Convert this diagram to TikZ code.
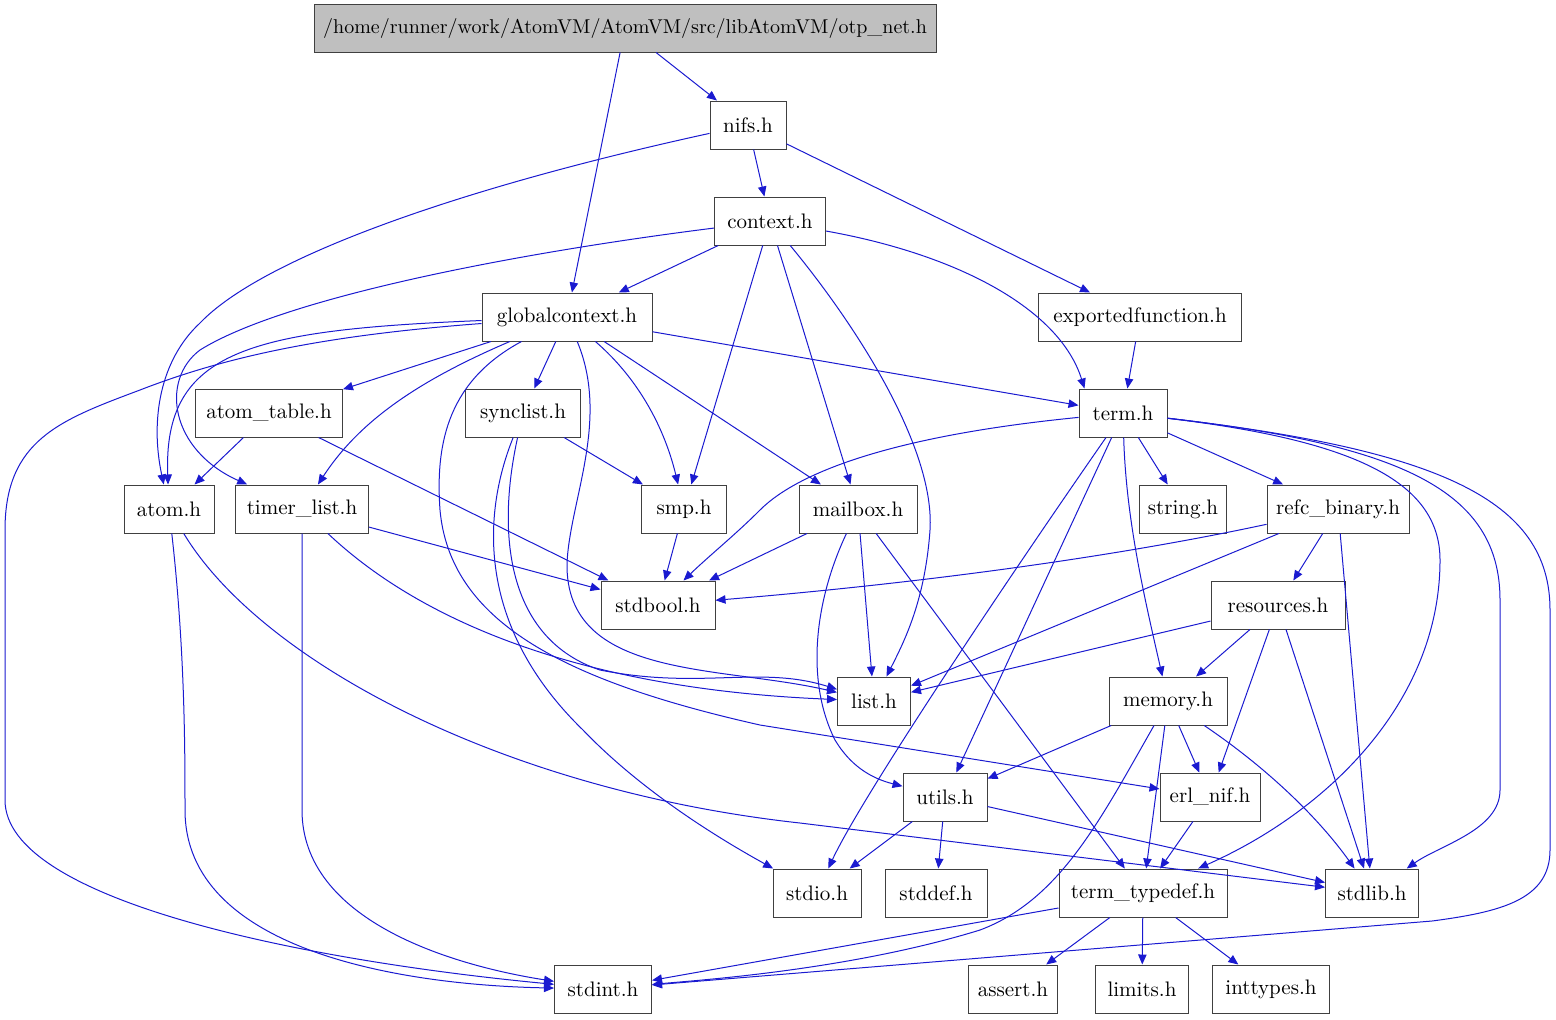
\documentclass[tikz,border=0pt]{standalone}
\usepackage{fontspec}
\usetikzlibrary{arrows.meta}
\definecolor{edgeblue}{RGB}{26,26,208}
\definecolor{rootgray}{RGB}{191,191,191}
\definecolor{boxline}{RGB}{64,64,64}
\begin{document}
\begin{tikzpicture}[
  x=0.5pt, y=-0.5pt,
  font=\fontsize{10.5}{12}\selectfont,
  >={Triangle[length=5pt, width=4.2pt]},
  arr/.style={->, draw=edgeblue, fill=none, line width=0.5pt},
  hfile/.style={draw=boxline, line width=0.5pt, fill=white, inner sep=0pt,
                minimum height=24pt, minimum width=#1},
]
\useasboundingbox (0,0) rectangle (1556,1019);

%% ===== ROW 0-2 =====
\node[hfile=311pt, fill=rootgray, font=\fontsize{10}{12}\selectfont] (otpnet) at (625,28)
    {/home/runner/work/AtomVM/AtomVM/src/libAtomVM/otp\_net.h};
\node[hfile=38pt]    (nifs)    at (748,125) {nifs.h};
\node[hfile=55.5pt]  (context) at (770,221) {context.h};

%% ===== ROW 3-4 =====
\node[hfile=85pt]    (gctx)    at (567,317)  {globalcontext.h};
\node[hfile=101.5pt] (expfun)  at (1140,317) {exportedfunction.h};
\node[hfile=73.5pt]  (atomtab) at (269,413)  {atom\_table.h};
\node[hfile=57.5pt]  (synclist) at (523,413) {synclist.h};
\node[hfile=44pt]    (term)    at (1123,413) {term.h};

%% ===== ROW 5-6 =====
\node[hfile=45pt]    (atom)    at (169,509)  {atom.h};
\node[hfile=66.5pt]  (timer)   at (302,509)  {timer\_list.h};
\node[hfile=42.5pt]  (smp)     at (684,509)  {smp.h};
\node[hfile=59pt]    (mailbox) at (858,509)  {mailbox.h};
\node[hfile=43.5pt]  (string)  at (1183,509) {string.h};
\node[hfile=71pt]    (refc)    at (1338,509) {refc\_binary.h};
\node[hfile=57pt]    (stdbool) at (658,605)  {stdbool.h};
\node[hfile=67pt]    (resources) at (1278,605) {resources.h};

%% ===== ROW 7-8 =====
\node[hfile=36.5pt]  (list)    at (874,701)  {list.h};
\node[hfile=59pt]    (memory)  at (1168,701) {memory.h};
\node[hfile=42pt]    (utils)   at (945,797)  {utils.h};
\node[hfile=50pt]    (erlnif)  at (1210,797) {erl\_nif.h};

%% ===== ROW 9-10 =====
\node[hfile=44pt]    (stdio)   at (817,893)  {stdio.h};
\node[hfile=51pt]    (stddef)  at (936,893)  {stddef.h};
\node[hfile=84pt]    (ttypedef) at (1143,893) {term\_typedef.h};
\node[hfile=46.5pt]  (stdlib)  at (1372,893) {stdlib.h};
\node[hfile=48.5pt]  (stdint)  at (603,989)  {stdint.h};
\node[hfile=44.5pt]  (assert)  at (1013,989) {assert.h};
\node[hfile=46.5pt]  (limits)  at (1142,989) {limits.h};
\node[hfile=58.5pt]  (inttypes) at (1271,989) {inttypes.h};

%% ===== ARROWS =====

% otp_net.h, nifs.h
\draw[arr] (otpnet) -- (nifs);
\draw[arr] (otpnet) -- (gctx);
\draw[arr] (nifs) -- (context);
\draw[arr] (nifs) -- (expfun);
\draw[arr] (nifs) .. controls (450,190) and (260,260) .. (200,323)
                  .. controls (160,360) and (150,420) .. (atom);

% context.h
\draw[arr] (context) -- (gctx);
\draw[arr] (context) -- (smp);
\draw[arr] (context) -- (mailbox);
\draw[arr] (context) .. controls (500,255) and (280,300) .. (200,350)
                     .. controls (160,380) and (170,450) .. (timer);
\draw[arr] (context) .. controls (860,330) and (935,450) .. (930,530)
                     .. controls (925,600) and (905,640) .. (list);
\draw[arr] (context) .. controls (960,255) and (1060,310) .. ([xshift=3pt]term.north west);

% globalcontext.h
\draw[arr] (gctx) -- (atomtab);
\draw[arr] (gctx) -- (synclist);
\draw[arr] (gctx) -- (mailbox);
\draw[arr] (gctx) -- (term);
\draw[arr] (gctx) .. controls (250,330) and (163,350) .. (atom);
\draw[arr] (gctx) .. controls (420,380) and (360,420) .. (timer);
\draw[arr] (gctx) .. controls (640,380) and (665,430) .. (smp);
\draw[arr] (gctx) .. controls (610,420) and (570,500) .. (567,563)
                  .. controls (565,680) and (720,665) .. (list);
\draw[arr] (gctx) .. controls (450,380) and (435,440) .. (440,510)
                  .. controls (450,620) and (560,680) .. (760,725) -- (erlnif);
\draw[arr] (gctx) .. controls (330,335) and (230,355) .. (140,390)
                  .. controls (60,420) and (5,440) .. (5,530) -- (5,800)
                  .. controls (5,900) and (300,960) .. (stdint);

\draw[arr] (expfun) -- (term);

% atom_table.h, synclist.h, atom.h, timer_list.h
\draw[arr] (atomtab) -- (atom);
\draw[arr] (atomtab) -- (stdbool);
\draw[arr] (synclist) -- (smp);
\draw[arr] (synclist) .. controls (495,540) and (510,640) .. (600,670)
                      .. controls (700,690) and (760,665) .. (list);
\draw[arr] (synclist) .. controls (480,520) and (480,630) .. (583,730)
                      .. controls (650,800) and (740,850) .. (stdio);
\draw[arr] (atom) .. controls (185,650) and (185,750) .. (185,810)
                  .. controls (185,950) and (400,985) .. (stdint);
\draw[arr] (atom) .. controls (260,660) and (500,790) .. (800,823) -- (stdlib);
\draw[arr] (timer) -- (stdbool);
\draw[arr] (timer) .. controls (430,630) and (600,690) .. (list);
\draw[arr] (timer) -- (302,810) .. controls (302,920) and (450,965) .. (stdint);

% smp.h, mailbox.h
\draw[arr] (smp) -- (stdbool);
\draw[arr] (mailbox) -- (stdbool);
\draw[arr] (mailbox) -- (list);
\draw[arr] (mailbox) -- (ttypedef);
\draw[arr] (mailbox) .. controls (815,600) and (805,680) .. (835,740)
                     .. controls (850,765) and (870,778) .. (utils);

% term.h
\draw[arr] (term) -- (string);
\draw[arr] (term) -- (refc);
\draw[arr] (term) -- (utils);
\draw[arr] (term) .. controls (1126,520) and (1145,600) .. (memory);
\draw[arr] (term) .. controls (1000,590) and (860,800) .. (stdio);
\draw[arr] (term) .. controls (900,435) and (800,470) .. (760,510)
                  .. controls (735,535) and (710,555) .. (stdbool);
\draw[arr] (term) .. controls (1350,440) and (1440,480) .. (1440,560)
                  .. controls (1440,700) and (1330,810) .. (ttypedef);
\draw[arr] (term) .. controls (1400,445) and (1500,490) .. (1500,600) -- (1500,790)
                  .. controls (1500,830) and (1440,845) .. (stdlib);
\draw[arr] (term) .. controls (1440,450) and (1550,500) .. (1550,610) -- (1550,850)
                  .. controls (1550,900) and (1500,912) .. (1432,921) -- (stdint);

% refc_binary.h, resources.h
\draw[arr] (refc) .. controls (1100,560) and (900,585) .. (stdbool);
\draw[arr] (refc) -- (list);
\draw[arr] (refc) -- (resources);
\draw[arr] (refc) -- (stdlib);
\draw[arr] (resources) -- (list);
\draw[arr] (resources) -- (memory);
\draw[arr] (resources) -- (erlnif);
\draw[arr] (resources) -- (stdlib);

% memory.h, utils.h, erl_nif.h
\draw[arr] (memory) -- (utils);
\draw[arr] (memory) -- (erlnif);
\draw[arr] (memory) -- (ttypedef);
\draw[arr] (memory) .. controls (1270,770) and (1320,820) .. (stdlib);
\draw[arr] (memory) .. controls (1100,820) and (1060,900) .. (980,930)
                    .. controls (850,970) and (700,980) .. (stdint);
\draw[arr] (utils) -- (stdio);
\draw[arr] (utils) -- (stddef);
\draw[arr] (utils) -- (stdlib);
\draw[arr] (erlnif) -- (ttypedef);

% term_typedef.h
\draw[arr] (ttypedef) -- (stdint);
\draw[arr] (ttypedef) -- (assert);
\draw[arr] (ttypedef) -- (limits);
\draw[arr] (ttypedef) -- (inttypes);

\end{tikzpicture}
\end{document}
